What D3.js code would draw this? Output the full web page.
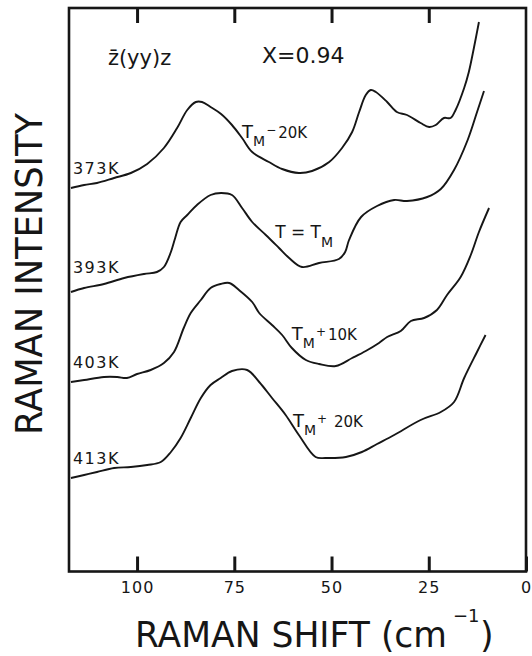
<!DOCTYPE html>
<html>
<head>
<meta charset="utf-8">
<script src="https://cdn.jsdelivr.net/npm/d3@7/dist/d3.min.js"></script>
<style>
  body { margin: 0; background: #fff; }
  text { font-family: "DejaVu Sans", sans-serif; fill: #161616; }
</style>
</head>
<body>
<svg id="chart" width="532" height="656"></svg>
<script>
// Raman shift (cm-1) vs intensity (arb. units, spectra offset vertically)
const temps = ['373K', '393K', '403K', '413K'];
const shiftTicks = [100, 75, 50, 25, 0];

const curve373 = [
  [117.0, 384], [113.6, 387], [110.3, 389], [105.9, 394], [101.6, 399], [97.4, 408],
  [93.1, 424], [89.7, 444], [87.1, 462], [84.9, 470], [83.3, 470], [81.1, 465],
  [78.4, 458], [75.6, 447], [73.0, 434], [70.4, 420], [66.1, 410], [62.7, 403],
  [58.4, 399], [55.0, 401], [50.6, 410], [47.3, 424], [44.7, 440], [42.9, 460],
  [41.2, 477], [39.9, 482], [38.6, 480], [35.7, 470], [33.2, 460], [30.6, 457],
  [27.1, 449], [24.9, 445], [23.2, 447], [21.1, 454], [19.4, 454], [18.1, 462],
  [15.9, 484], [14.7, 500], [13.4, 524], [12.1, 550]
];
const curve393 = [
  [117.0, 280], [113.6, 284], [108.5, 288], [103.3, 294], [98.2, 298], [94.9, 300],
  [93.1, 305], [91.3, 320], [90.2, 334], [88.8, 350], [87.1, 357], [84.6, 367],
  [81.1, 377], [78.4, 379], [75.6, 377], [73.0, 364], [70.4, 350], [66.9, 337],
  [63.5, 324], [60.9, 314], [57.6, 305], [53.2, 309], [48.1, 313], [46.5, 320],
  [45.5, 332], [42.4, 355], [38.3, 366], [33.9, 372], [30.6, 371], [25.4, 375],
  [21.9, 383], [18.5, 402], [15.0, 432], [12.5, 461], [10.8, 481]
];
const curve403 = [
  [117.0, 190], [113.6, 192], [108.5, 195], [105.1, 195], [102.6, 194], [100.0, 198],
  [96.5, 202], [93.1, 209], [90.5, 220], [88.0, 244], [86.2, 259], [83.6, 272],
  [81.1, 284], [78.5, 288], [76.3, 289], [73.8, 282], [70.4, 270], [68.6, 259],
  [65.3, 247], [62.7, 237], [60.2, 224], [56.6, 212], [53.2, 208], [48.9, 206],
  [44.7, 214], [41.2, 221], [37.8, 229], [35.7, 235], [32.2, 241], [29.6, 251],
  [26.2, 254], [22.9, 262], [20.3, 277], [16.8, 295], [14.2, 317], [12.1, 340],
  [9.5, 364]
];
const curve413 = [
  [117.0, 94], [113.6, 97], [110.3, 100], [105.9, 104], [101.6, 105], [97.4, 107],
  [93.9, 110], [91.3, 120], [88.8, 134], [86.2, 154], [83.6, 174], [81.1, 187],
  [78.5, 194], [75.6, 201], [71.7, 202], [68.6, 190], [65.3, 174], [61.8, 157],
  [58.4, 137], [54.1, 115], [51.5, 114], [46.3, 115], [42.2, 120], [38.3, 128],
  [33.9, 137], [27.1, 152], [21.9, 160], [18.5, 170], [15.9, 194], [12.6, 220],
  [10.4, 237]
];
const curves = [curve373, curve393, curve403, curve413];
// left-edge label height for each spectrum
const labelLevels = [398, 299, 204, 108];

const svg = d3.select('#chart');
const plotLeft = 69, plotRight = 526, plotTop = 8, plotBottom = 571.5;

const x = d3.scaleLinear().domain([117.5, 0]).range([plotLeft, plotRight]);
const y = d3.scaleLinear().domain([0, 564]).range([572, 8]);

// frame
svg.append('rect')
  .attr('x', plotLeft).attr('y', plotTop)
  .attr('width', plotRight - plotLeft).attr('height', plotBottom - plotTop)
  .attr('fill', 'none').attr('stroke', '#161616').attr('stroke-width', 2.6);

const xAxis = d3.axisBottom(x)
  .tickValues(shiftTicks)
  .tickSizeInner(-15)
  .tickSizeOuter(0)
  .tickPadding(10);

const gx = svg.append('g')
  .attr('transform', 'translate(0,' + plotBottom + ')')
  .call(xAxis);
gx.select('.domain').remove();
gx.selectAll('.tick line').attr('stroke', '#161616').attr('stroke-width', 3);
gx.selectAll('.tick text')
  .style('font-size', '16px')
  .style('letter-spacing', '1px')
  .attr('fill', '#161616');

const gt = svg.append('g')
  .attr('transform', 'translate(0,' + plotTop + ')')
  .call(d3.axisTop(x).tickValues([100, 75, 50, 25]).tickSizeInner(-15).tickSizeOuter(0).tickFormat(''));
gt.select('.domain').remove();
gt.selectAll('.tick line').attr('stroke', '#161616').attr('stroke-width', 3);

// spectra
const line = d3.line()
  .x(d => x(d[0]))
  .y(d => y(d[1]))
  .curve(d3.curveCatmullRom.alpha(0.5));

svg.selectAll('path.spec')
  .data(curves)
  .enter().append('path')
  .attr('class', 'spec')
  .attr('d', line)
  .attr('fill', 'none')
  .attr('stroke', '#161616')
  .attr('stroke-width', 1.9)
  .attr('stroke-linejoin', 'round');

svg.selectAll('text.temp')
  .data(temps)
  .enter().append('text')
  .attr('class', 'temp')
  .attr('x', x(116.5))
  .attr('y', (d, i) => y(labelLevels[i]))
  .style('font-size', '16px')
  .style('letter-spacing', '1.5px')
  .text(d => d);

// scattering geometry and composition
svg.append('text')
  .attr('x', x(107.5)).attr('y', y(507))
  .style('font-size', '21px')
  .text('z\u0304(yy)z');

svg.append('text')
  .attr('x', x(67.9)).attr('y', y(509))
  .style('font-size', '22px')
  .text('X=0.94');

// T_M annotations
function tmLabel(sx, si, sign, rest) {
  const t = svg.append('text').attr('x', x(sx)).attr('y', y(si));
  t.append('tspan').style('font-size', '18px').text('T');
  t.append('tspan').style('font-size', '14px').attr('dy', 8).text('M');
  t.append('tspan').style('font-size', '12px').attr('dy', -12).attr('dx', 1).text(sign);
  t.append('tspan').style('font-size', '15px').attr('dy', 4).attr('dx', 2).text(rest);
}
tmLabel(73.0, 434, '\u2212', '20K');
tmLabel(60.2, 232, '+', '10K');
tmLabel(59.9, 145, '+', ' 20K');

const tt = svg.append('text').attr('x', x(64.5)).attr('y', y(334));
tt.append('tspan').style('font-size', '17px').text('T = T');
tt.append('tspan').style('font-size', '14px').attr('dy', 9).text('M');

// axis titles
svg.append('text')
  .attr('transform', 'translate(42,274) rotate(-90)')
  .attr('text-anchor', 'middle')
  .attr('textLength', 322)
  .attr('lengthAdjust', 'spacingAndGlyphs')
  .style('font-size', '38px')
  .text('RAMAN INTENSITY');

svg.append('text')
  .attr('x', 135).attr('y', 647)
  .attr('textLength', 312)
  .attr('lengthAdjust', 'spacingAndGlyphs')
  .style('font-size', '35px')
  .text('RAMAN SHIFT (cm');
svg.append('text')
  .attr('x', 453).attr('y', 622)
  .style('font-size', '18px')
  .text('\u22121');
svg.append('text')
  .attr('x', 480).attr('y', 647)
  .style('font-size', '35px')
  .text(')');
</script>
</body>
</html>
